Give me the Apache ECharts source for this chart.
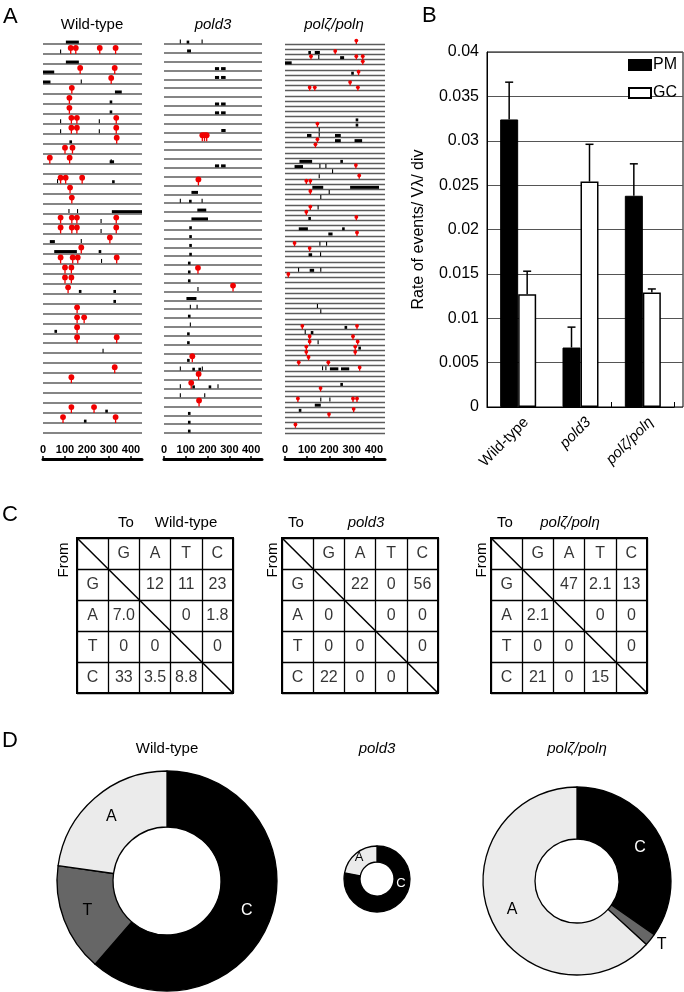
<!DOCTYPE html>
<html><head><meta charset="utf-8">
<script src="https://cdn.jsdelivr.net/npm/echarts/dist/echarts.min.js"></script>
<style>html,body{margin:0;padding:0;background:#fff}#c{width:684px;height:992px}</style>
</head><body><div id="c"></div>
<script>
// ================= DATA =================
// Panel A : lanes = independent clones, positions in bp
const genotypes = ['Wild-type', 'pold3', 'polζ/polη'];
const laneCounts = [40, 45, 76];
const positionTicks = [0, 100, 200, 300, 400];

// point mutations [lane, position]
const wtPM = [[1,126],[1,149],[1,258],[1,330],[3,169],[3,326],[4,310],[5,131],[6,120],[7,120],
  [8,129],[8,154],[8,333],[9,129],[9,154],[9,333],[10,335],[11,100],[11,134],[12,31],[12,121],
  [14,80],[14,103],[14,178],[15,123],[16,131],[18,80],[18,131],[18,154],[18,333],
  [19,80],[19,131],[19,154],[19,333],[20,304],[21,174],[22,80],[22,135],[22,158],[22,335],
  [23,100],[23,129],[24,100],[24,129],[25,114],[27,155],[28,155],[28,187],[29,155],
  [30,155],[30,335],[33,326],[34,129],[37,129],[37,232],[38,91],[38,330]];
// gene-conversion tracts [lane, start, end]
const wtGC = [[0,104,163],[2,104,163],[3,0,51],[4,0,34],[5,327,358],[6,303,313],[7,303,313],
  [10,120,132],[12,303,323],[14,314,322],[17,313,450],[20,31,54],[21,51,154],[21,253,260],
  [25,163,170],[25,320,327],[26,320,327],[29,52,58],[37,283,290],[38,186,193]];
// ambiguous events [lane, position]
const wtTick = [[1,80],[4,174],[8,80],[8,256],[9,80],[9,256],[12,310],[14,66],[17,118],[17,157],
  [18,264],[19,264],[20,174],[22,266],[31,273]];

const pold3PM = [[11,176],[11,186],[11,196],[16,158],[26,156],[28,317],[36,130],[38,159],[39,125],[41,161]];
const pold3GC = [[0,104,110],[1,106,124],[3,234,253],[3,262,283],[4,234,253],[4,262,283],
  [7,234,253],[7,262,283],[8,234,253],[8,262,283],[10,263,283],[14,234,253],[14,262,283],
  [17,126,156],[18,115,121],[19,153,194],[20,126,202],[21,116,122],[22,116,122],[23,116,122],
  [24,116,122],[25,110,116],[26,110,116],[27,110,116],[29,103,149],[31,110,116],[33,106,112],
  [34,106,112],[36,106,112],[37,130,136],[37,158,164],[39,130,136],[39,205,211],
  [42,110,116],[43,110,116],[44,110,116]];
const pold3Tick = [[0,75],[0,175],[18,75],[18,175],[28,156],[30,121],[30,152],[32,121],
  [37,75],[37,176],[39,75],[39,248],[40,75],[40,187]];

const polzPM = [[0,321],[2,226],[3,117],[3,321],[3,350],[4,350],[6,331],[8,293],[9,111],[9,134],
  [9,328],[16,146],[19,146],[20,137],[24,319],[26,334],[27,96],[27,114],[29,114],[32,114],
  [33,96],[34,321],[37,324],[39,43],[40,111],[45,15],[55,78],[55,324],[57,111],[57,306],
  [58,111],[58,327],[59,96],[59,316],[60,96],[60,316],[61,106],[62,62],[62,195],[63,336],
  [67,160],[69,58],[69,306],[69,324],[71,309],[72,198],[74,47]];
const polzGC = [[2,105,111],[2,134,157],[3,248,266],[4,0,30],[6,298,304],[15,318,324],
  [16,318,324],[18,99,119],[18,225,251],[19,225,251],[19,313,347],[23,65,122],[23,249,255],
  [24,43,81],[28,123,172],[28,293,423],[34,105,111],[36,62,103],[36,257,263],[37,195,214],
  [41,106,122],[44,111,131],[55,268,274],[56,116,122],[59,330,336],[63,202,240],[63,252,289],
  [66,249,255],[70,134,161],[71,62,68]];
const polzTick = [[3,152],[17,154],[18,154],[24,157],[24,184],[25,214],[26,154],[29,199],
  [30,161],[32,149],[39,157],[39,187],[41,160],[44,61],[44,161],[51,146],[52,161],[56,91],
  [58,149],[63,169],[63,184],[69,161],[69,202]];

// Panel B
const rateCategories = ['Wild-type', 'pold3', 'polζ/polη'];
const pmRate = [0.0324, 0.0067, 0.0238];
const pmErr  = [0.0042, 0.0023, 0.0036];
const gcRate = [0.0127, 0.0254, 0.0129];
const gcErr  = [0.0026, 0.0042, 0.0004];
const rateTicks = [0, 0.005, 0.01, 0.015, 0.02, 0.025, 0.03, 0.035, 0.04];

// Panel C  (rows = From G,A,T,C ; cols = To G,A,T,C)
const bases = ['G', 'A', 'T', 'C'];
const wtTable    = [['', '12', '11', '23'], ['7.0', '', '0', '1.8'], ['0', '0', '', '0'], ['33', '3.5', '8.8', '']];
const pold3Table = [['', '22', '0', '56'], ['0', '', '0', '0'], ['0', '0', '', '0'], ['22', '0', '0', '']];
const polzTable  = [['', '47', '2.1', '13'], ['2.1', '', '0', '0'], ['0', '0', '', '0'], ['21', '0', '15', '']];

// Panel D
const pieNames = ['C', 'T', 'A'];
const wtPie    = [56, 14.5, 20.8];
const pold3Pie = [78, 0, 22];
const polzPie  = [34, 2.1, 62];

// ================= LAYOUT / STYLE =================
const FONT = '"Liberation Sans", Arial, Helvetica, sans-serif';
const RED = '#f00000';
const grids = [], xAxes = [], yAxes = [], series = [], graphics = [];

function txt(text, x, y, size, opts) {
  opts = opts || {};
  graphics.push({
    type: 'text', x: x, y: y, rotation: opts.rotation || 0, silent: true,
    style: {
      text: text, fill: '#000',
      font: (opts.italic ? 'italic ' : '') + size + 'px ' + FONT,
      align: opts.align || 'center', textAlign: opts.align || 'center',
      verticalAlign: 'middle', textVerticalAlign: 'middle'
    }
  });
}

// ---------- Panel A ----------
const aGeom = [{ left: 43, width: 99, title: 92 }, { left: 164, width: 98, title: 213 }, { left: 285, width: 100, title: 334 }];
const aPM = [wtPM, pold3PM, polzPM], aGC = [wtGC, pold3GC, polzGC], aTick = [wtTick, pold3Tick, polzTick];
const pinSize = [{ r: 2.9, h: 6 }, { r: 2.9, h: 6 }, { r: 1.9, h: 3.4 }];
txt('A', 3, 17, 22, { align: 'left' });
genotypes.forEach(function (g, i) {
  const gi = grids.length;
  grids.push({ left: aGeom[i].left, width: aGeom[i].width, top: 44, height: 389, outerBoundsMode: 'none', containLabel: false });
  xAxes.push({
    type: 'value', gridIndex: gi, min: 0, max: 450, interval: 100, position: 'bottom', offset: 26,
    axisLine: { show: true, onZero: false, lineStyle: { color: '#000', width: 3 } },
    axisTick: { show: true, inside: true, length: 3, lineStyle: { color: '#000', width: 1.5 } },
    axisLabel: { show: true, inside: true, margin: 4, fontSize: 11, fontWeight: 'bold', color: '#000', fontFamily: FONT, showMaxLabel: false,
      formatter: function (v) { return positionTicks.indexOf(v) >= 0 ? String(v) : ''; } },
    splitLine: { show: false }
  });
  yAxes.push({
    type: 'value', gridIndex: gi, min: 0, max: laneCounts[i] - 1, interval: 1, inverse: true,
    axisLine: { show: false }, axisTick: { show: false }, axisLabel: { show: false },
    splitLine: { show: true, lineStyle: { color: '#5c5c5c', width: i === 2 ? 1.4 : 1.7 } }
  });
  const ps = pinSize[i];
  series.push({
    type: 'custom', xAxisIndex: gi, yAxisIndex: gi, silent: true, clip: false, z: 5,
    data: aGC[i],
    renderItem: function (params, api) {
      const a = api.coord([api.value(1), api.value(0)]);
      const b = api.coord([api.value(2), api.value(0)]);
      const w = Math.max(b[0] - a[0], 2.6);
      return { type: 'rect', shape: { x: a[0], y: a[1] - 3.4, width: w, height: 3 }, style: { fill: '#000' } };
    }
  });
  series.push({
    type: 'custom', xAxisIndex: gi, yAxisIndex: gi, silent: true, clip: false, z: 5,
    data: aTick[i],
    renderItem: function (params, api) {
      const p = api.coord([api.value(1), api.value(0)]);
      return { type: 'line', shape: { x1: p[0], y1: p[1] - 0.5, x2: p[0], y2: p[1] - 4.5 }, style: { stroke: '#000', lineWidth: 1.1 } };
    }
  });
  series.push({
    type: 'custom', xAxisIndex: gi, yAxisIndex: gi, silent: true, clip: false, z: 6,
    data: aPM[i],
    renderItem: function (params, api) {
      const p = api.coord([api.value(1), api.value(0)]);
      return { type: 'group', children: [
        { type: 'line', shape: { x1: p[0], y1: p[1], x2: p[0], y2: p[1] - ps.h }, style: { stroke: RED, lineWidth: 1.3 } },
        { type: 'circle', shape: { cx: p[0], cy: p[1] - ps.h, r: ps.r }, style: { fill: RED } }
      ] };
    }
  });
  txt(g, aGeom[i].title, 25, 15, { italic: i > 0 });
});

// ---------- Panel B ----------
txt('B', 422, 16, 22, { align: 'left' });
const gB2 = grids.length;
grids.push({ left: 487, top: 52, width: 196, height: 355, show: true, borderColor: '#000', borderWidth: 1, backgroundColor: 'transparent', outerBoundsMode: 'none', containLabel: false });
xAxes.push({ type: 'value', gridIndex: gB2, min: 0, max: 1, show: false });
yAxes.push({
  type: 'value', gridIndex: gB2, min: 0, max: 0.04, interval: 0.005,
  name: 'Rate of events/ Vλ/ div', nameLocation: 'middle', nameRotate: 90, nameGap: 60,
  nameTextStyle: { fontSize: 16, color: '#000', fontFamily: FONT },
  axisLine: { show: true, lineStyle: { color: '#000', width: 1 } },
  axisTick: { show: false },
  axisLabel: { fontSize: 16, color: '#000', margin: 8, fontFamily: FONT,
    formatter: function (v) { return rateTicks.indexOf(+v.toFixed(3)) >= 0 ? String(+v.toFixed(3)) : ''; } },
  splitLine: { show: true, lineStyle: { color: '#555', width: 1 } }
});
const gB = grids.length;
grids.push({ left: 487, top: 52, width: 187, height: 355, outerBoundsMode: 'none', containLabel: false });
xAxes.push({
  type: 'category', gridIndex: gB, data: rateCategories, boundaryGap: true,
  axisLine: { show: true, lineStyle: { color: '#000', width: 1.2 } },
  axisTick: { show: true, inside: true, length: 5, lineStyle: { color: '#000', width: 1 } },
  axisLabel: { show: false }
});
yAxes.push({ type: 'value', gridIndex: gB, min: 0, max: 0.04, show: false });
// category labels (Excel-style anchor, slightly right of the category centre)
const gBL = grids.length;
grids.push({ left: 495, top: 52, width: 187, height: 355, outerBoundsMode: 'none', containLabel: false });
xAxes.push({
  type: 'category', gridIndex: gBL, data: rateCategories, boundaryGap: true,
  axisLine: { show: false }, axisTick: { show: false },
  axisLabel: { rotate: 45, fontSize: 15, color: '#000', margin: 13, fontFamily: FONT,
    formatter: function (v, idx) { return idx === 0 ? v : '{i|' + v + '}'; },
    rich: { i: { fontStyle: 'italic', fontSize: 15, color: '#000', fontFamily: FONT } } }
});
yAxes.push({ type: 'value', gridIndex: gBL, min: 0, max: 1, show: false });
series.push({
  name: 'PM', type: 'bar', xAxisIndex: gB, yAxisIndex: gB, data: pmRate, barWidth: 18, barGap: '0%',
  itemStyle: { color: '#000', borderColor: '#000', borderWidth: 1 }, silent: true, z: 3
});
series.push({
  name: 'GC', type: 'bar', xAxisIndex: gB, yAxisIndex: gB, data: gcRate, barWidth: 18, barGap: '0%',
  itemStyle: { color: '#fff', borderColor: '#000', borderWidth: 1.5 }, silent: true, z: 3
});
function errSeries(vals, errs, dx) {
  return {
    type: 'custom', xAxisIndex: gB, yAxisIndex: gB, silent: true, z: 4,
    data: vals.map(function (v, k) { return [k, v, v + errs[k]]; }),
    renderItem: function (params, api) {
      const a = api.coord([api.value(0), api.value(1)]);
      const b = api.coord([api.value(0), api.value(2)]);
      const x = a[0] + dx;
      return { type: 'group', children: [
        { type: 'line', shape: { x1: x, y1: a[1], x2: x, y2: b[1] }, style: { stroke: '#000', lineWidth: 1.5 } },
        { type: 'line', shape: { x1: x - 4, y1: b[1], x2: x + 4, y2: b[1] }, style: { stroke: '#000', lineWidth: 1.5 } }
      ] };
    }
  };
}
series.push(errSeries(pmRate, pmErr, -9));
series.push(errSeries(gcRate, gcErr, 9));

// ---------- Panel C ----------
txt('C', 2, 515, 22, { align: 'left' });
const tables = [wtTable, pold3Table, polzTable];
const tGeom = [{ left: 77, to: 126, name: 186, from: 64 }, { left: 282, to: 296, name: 366, from: 273 }, { left: 491, to: 505, name: 570, from: 482 }];
tables.forEach(function (tb, i) {
  const gi = grids.length;
  grids.push({ left: tGeom[i].left, top: 538, width: 156, height: 155, show: true, borderColor: '#000', borderWidth: 2, outerBoundsMode: 'none', containLabel: false });
  const ax = { min: 0, max: 5, interval: 1, axisLine: { show: false }, axisTick: { show: false }, axisLabel: { show: false },
    splitLine: { show: true, lineStyle: { color: '#000', width: 1.3 } } };
  xAxes.push(Object.assign({ type: 'value', gridIndex: gi }, ax));
  yAxes.push(Object.assign({ type: 'value', gridIndex: gi, inverse: true }, ax));
  const cells = [];
  bases.forEach(function (b, k) { cells.push([k + 1.5, 0.5, b]); cells.push([0.5, k + 1.5, b]); });
  tb.forEach(function (row, r) { row.forEach(function (v, c) { if (v !== '') cells.push([c + 1.5, r + 1.5, v]); }); });
  series.push({
    type: 'scatter', xAxisIndex: gi, yAxisIndex: gi, data: cells, symbolSize: 1, silent: true,
    itemStyle: { color: 'rgba(0,0,0,0)' },
    label: { show: true, position: 'inside', fontSize: 16, color: '#000', fontFamily: FONT, formatter: function (p) { return p.data[2]; } }
  });
  series.push({
    type: 'line', xAxisIndex: gi, yAxisIndex: gi, data: [[0, 0], [5, 5]], symbol: 'none', silent: true,
    lineStyle: { color: '#000', width: 1.5 }
  });
  txt('To', tGeom[i].to, 523, 15);
  txt(genotypes[i], tGeom[i].name, 523, 15, { italic: i > 0 });
  txt('From', tGeom[i].from, 560, 15, { rotation: Math.PI / 2 });
});

// ---------- Panel D ----------
txt('D', 2, 741, 22, { align: 'left' });
const pies = [wtPie, pold3Pie, polzPie];
const pGeom = [
  { c: [167, 881], r: [54, 110], fs: 16 },
  { c: [377, 879], r: [17, 33], fs: 13, fixC: [401, 883] },
  { c: [577, 881], r: [42, 94], fs: 16 }
];
const pieColor = { C: '#000', T: '#666', A: '#ebebeb' };
pies.forEach(function (vals, i) {
  const g = pGeom[i];
  series.push({
    type: 'pie', center: g.c, radius: g.r, startAngle: 90, clockwise: true,
    silent: true, avoidLabelOverlap: false, minAngle: 0, animation: false,
    itemStyle: { borderColor: '#000', borderWidth: 1.3 },
    label: { show: true, position: 'inside', fontSize: g.fs, fontFamily: FONT },
    labelLine: { show: false },
    labelLayout: g.fixC ? function (p) { return p.dataIndex === 0 ? { x: g.fixC[0], y: g.fixC[1], align: 'center', verticalAlign: 'middle' } : {}; } : null,
    data: pieNames.map(function (n, k) {
      const outside = (i === 2 && n === 'T');
      return {
        name: n, value: vals[k], itemStyle: { color: pieColor[n] },
        label: { show: vals[k] > 0, color: n === 'C' ? '#fff' : '#000', position: outside ? 'outside' : 'inside', formatter: '{b}', distanceToLabelLine: 0 },
        labelLine: { show: false, length: 8, length2: 0 }
      };
    })
  });
  txt(genotypes[i], g.c[0], 749, 15, { italic: i > 0 });
});

// ================= CHART =================
const chart = echarts.init(document.getElementById('c'), null, { renderer: 'canvas', width: 684, height: 992 });
chart.setOption({
  backgroundColor: '#fff',
  animation: false,
  textStyle: { fontFamily: FONT },
  legend: {
    data: [{ name: 'PM' }, { name: 'GC' }], orient: 'vertical', left: 628, top: 57, itemWidth: 22, itemHeight: 10, itemGap: 12,
    padding: 0, icon: 'rect', selectedMode: false,
    textStyle: { fontSize: 16, color: '#000', fontFamily: FONT, padding: [0, 0, 0, -3] }
  },
  grid: grids, xAxis: xAxes, yAxis: yAxes, series: series, graphic: graphics
});
</script></body></html>
